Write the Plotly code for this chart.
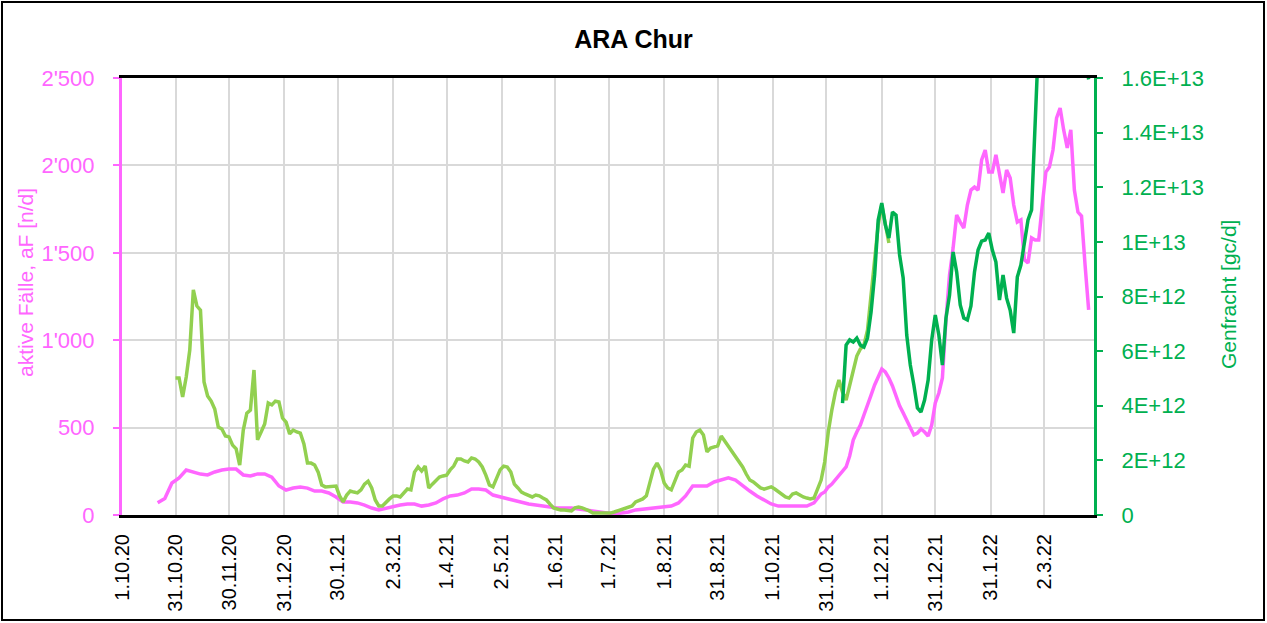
import pandas as pd
import plotly.graph_objects as go

# ---------------- data ----------------
# aktive Fälle (left axis), part A every 4 days from 2020-10-21
cases_a_start = "2020-10-21"
cases_a = [70, 94, 183, 212, 257, 246, 234, 229, 246, 257, 263, 263, 229, 223, 235, 235, 217, 166, 143, 154,
           160, 154, 137, 137, 126, 103, 74, 74, 69, 57, 40, 29, 40, 51, 57, 63, 63, 51, 57, 69,
           92, 109, 114, 126, 149, 149, 143, 114, 103, 92, 80, 69, 63, 57, 51, 46, 40, 40, 40, 34,
           29, 23, 17, 11, 6, 11, 17, 29, 34, 40, 46, 51, 51, 69, 109, 166, 166, 166, 189, 200,
           212, 200, 166, 137, 109, 86, 63, 51, 51, 51, 46, 51, 69, 120]
# part B every 2 days from 2021-10-30
cases_b_start = "2021-10-30"
cases_b = [132, 160, 177, 200, 223, 246, 275, 338, 429, 475, 515, 572, 624, 686, 744, 795, 835, 818, 784, 738,
           681, 624, 584, 543, 498, 458, 469, 492, 475, 452, 515, 641, 698, 784, 1116, 1373, 1527, 1716, 1676, 1642,
           1773, 1859, 1876, 1859, 2031, 2088, 1962, 1962, 2060, 1945, 1842, 1974, 1928, 1773, 1676, 1688, 1459, 1442, 1585, 1573,
           1573, 1773, 1962, 1991, 2088, 2271, 2328, 2203, 2100, 2203, 1859, 1733, 1710, 1430, 1173]

# Genfracht (right axis), values in units of 1E12 gc/d, every 2 days
gen_light_start = "2020-10-31"
gen_light = [5.02, 5.02, 4.32, 5.05, 6.04, 8.24, 7.65, 7.50, 4.87, 4.36, 4.17, 3.88, 3.22, 3.15, 2.89, 2.86, 2.56, 2.42, 1.83, 3.11,
             3.73, 3.84, 5.31, 2.75, 3.04, 3.33, 4.10, 4.03, 4.17, 4.14, 3.55, 3.40, 2.97, 3.11, 3.04, 3.00, 2.60, 1.90, 1.90, 1.83,
             1.57, 1.10, 1.03, 1.03, 1.03, 1.06, 0.70, 0.48, 0.73, 0.88, 0.84, 0.81, 0.92, 1.13, 1.24, 0.99, 0.55, 0.33, 0.33, 0.48,
             0.59, 0.70, 0.70, 0.66, 0.81, 0.95, 0.92, 1.57, 1.76, 1.61, 1.79, 0.99, 1.13, 1.28, 1.39, 1.43, 1.46, 1.65, 1.79, 2.05,
             2.05, 1.98, 1.94, 2.09, 2.05, 1.94, 1.76, 1.46, 1.10, 1.03, 1.35, 1.65, 1.79, 1.76, 1.57, 1.13, 0.99, 0.84, 0.77, 0.70,
             0.66, 0.73, 0.70, 0.62, 0.55, 0.40, 0.26, 0.22, 0.18, 0.18, 0.15, 0.15, 0.26, 0.29, 0.26, 0.22, 0.15, 0.07, 0.07, 0.07,
             0.07, 0.07, 0.07, 0.11, 0.15, 0.18, 0.22, 0.29, 0.33, 0.48, 0.55, 0.59, 0.70, 1.21, 1.68, 1.90, 1.65, 1.17, 0.99, 0.92,
             1.28, 1.57, 1.65, 1.83, 1.79, 2.82, 3.04, 3.11, 2.93, 2.31, 2.45, 2.49, 2.53, 2.89, 2.71, 2.49, 2.31, 2.12, 1.98, 1.76,
             1.50, 1.28, 1.21, 1.10, 0.99, 0.95, 0.99, 1.03, 0.95, 0.84, 0.73, 0.66, 0.62, 0.77, 0.81, 0.73, 0.66, 0.62, 0.59, 0.62,
             0.92, 1.28, 1.94, 3.04, 3.84, 4.50, 4.94, 4.50, 4.21, 4.76, 5.38, 5.82, 6.08, 6.22, 6.77, 8.05, 9.15, 10.62, 11.35, 10.62,
             9.96]
gen_dark_start = "2021-11-09"
gen_dark = [4.10, 6.22, 6.41, 6.33, 6.48, 6.22, 6.15, 6.48, 7.43, 8.79, 10.80, 11.42, 10.62, 10.14, 11.09, 10.98, 9.52, 8.68, 6.59, 5.49,
            4.76, 3.92, 3.77, 4.21, 4.94, 6.41, 7.32, 6.59, 5.49, 7.21, 8.05, 9.63, 8.90, 7.69, 7.21, 7.14, 7.65, 8.90, 9.70, 10.03,
            10.07, 10.32, 9.70, 9.26, 7.87, 8.79, 7.94, 7.50, 6.66, 8.71, 9.15, 10.07, 10.80, 11.17, 14.10, 17.5, 18.5, 19.0, 19.5, 20.0,
            19.0, 18.5, 19.0, 18.0, 17.5, 18.0, 17.5, 17.0, 16.8, 15.95]

x_tick_dates = ["2020-10-01", "2020-10-31", "2020-11-30", "2020-12-31", "2021-01-30", "2021-03-02", "2021-04-01",
                "2021-05-02", "2021-06-01", "2021-07-01", "2021-08-01", "2021-08-31", "2021-10-01", "2021-10-31",
                "2021-12-01", "2021-12-31", "2022-01-31", "2022-03-02"]
x_tick_labels = ["1.10.20", "31.10.20", "30.11.20", "31.12.20", "30.1.21", "2.3.21", "1.4.21", "2.5.21", "1.6.21",
                 "1.7.21", "1.8.21", "31.8.21", "1.10.21", "31.10.21", "1.12.21", "31.12.21", "31.1.22", "2.3.22"]
x_range = ["2020-10-01", "2022-03-30"]

left_ticks = [0, 500, 1000, 1500, 2000, 2500]
left_labels = ["0", "500", "1'000", "1'500", "2'000", "2'500"]
right_ticks = [0, 2e12, 4e12, 6e12, 8e12, 1e13, 1.2e13, 1.4e13, 1.6e13]
right_labels = ["0", "2E+12", "4E+12", "6E+12", "8E+12", "1E+13", "1.2E+13", "1.4E+13", "1.6E+13"]

title_text = "ARA Chur"
left_title = "aktive Fälle, aF [n/d]"
right_title = "Genfracht [gc/d]"

# ---------------- styles ----------------
PINK = "#FF66FF"
LGREEN = "#92D050"
DGREEN = "#00B050"
GRID = "#D9D9D9"
FONT = "Liberation Sans, Arial, sans-serif"
LW = 3.5

cases_dates = list(pd.date_range(cases_a_start, periods=len(cases_a), freq="4D")) + \
    list(pd.date_range(cases_b_start, periods=len(cases_b), freq="2D"))
cases_vals = cases_a + cases_b
light_dates = pd.date_range(gen_light_start, periods=len(gen_light), freq="2D")
dark_dates = pd.date_range(gen_dark_start, periods=len(gen_dark), freq="2D")

fig = go.Figure()
fig.add_trace(go.Scatter(x=cases_dates, y=cases_vals, mode="lines",
                         line=dict(color=PINK, width=LW), yaxis="y", showlegend=False))
fig.add_trace(go.Scatter(x=light_dates, y=[v * 1e12 for v in gen_light], mode="lines",
                         line=dict(color=LGREEN, width=LW), yaxis="y2", showlegend=False))
fig.add_trace(go.Scatter(x=dark_dates, y=[v * 1e12 for v in gen_dark], mode="lines",
                         line=dict(color=DGREEN, width=LW), yaxis="y2", showlegend=False))

W, H = 1267, 623
L, R, T, B = 122, 173, 78, 108
pw, ph = W - L - R, H - T - B


def px(xp):
    return (xp - L) / pw


def py(yp):
    return (H - B - yp) / ph


fig.update_layout(
    width=W, height=H,
    margin=dict(l=L, r=R, t=T, b=B, autoexpand=False),
    paper_bgcolor="white", plot_bgcolor="white",
    font=dict(family=FONT, color="black"),
    title=dict(text="<b>" + title_text + "</b>", x=0.5, xanchor="center",
               y=1 - 39 / H, yanchor="middle", yref="container",
               font=dict(size=25, family=FONT, color="black")),
    xaxis=dict(type="date", range=x_range, tickvals=x_tick_dates, ticktext=x_tick_labels,
               tickangle=-90, tickfont=dict(size=20, color="black", family=FONT),
               showgrid=True, gridcolor=GRID, gridwidth=2,
               showline=True, linecolor="black", linewidth=3, mirror=True,
               ticks="", ticklabelstandoff=8, zeroline=False),
    yaxis=dict(range=[0, 2500], tickvals=left_ticks, ticktext=left_labels,
               tickfont=dict(size=22, color=PINK, family=FONT),
               showgrid=True, gridcolor=GRID, gridwidth=2,
               showline=True, linecolor=PINK, linewidth=3,
               ticks="outside", ticklen=6, tickwidth=2, tickcolor=PINK,
               ticklabelstandoff=14, zeroline=False),
    yaxis2=dict(range=[0, 1.6e13], overlaying="y", side="right",
                tickvals=right_ticks, ticktext=right_labels,
                tickfont=dict(size=22, color=DGREEN, family=FONT),
                showgrid=False, showline=True, linecolor=DGREEN, linewidth=3,
                ticks="outside", ticklen=6, tickwidth=2, tickcolor=DGREEN,
                ticklabelstandoff=14, zeroline=False),
    annotations=[
        dict(text=left_title, xref="paper", yref="paper", x=px(25), y=py(283),
             textangle=-90, showarrow=False, xanchor="center", yanchor="middle",
             font=dict(size=21, color=PINK, family=FONT)),
        dict(text=right_title, xref="paper", yref="paper", x=px(1228), y=py(295),
             textangle=-90, showarrow=False, xanchor="center", yanchor="middle",
             font=dict(size=21, color=DGREEN, family=FONT)),
    ],
    shapes=[dict(type="rect", xref="paper", yref="paper", x0=px(2), x1=px(1264),
                 y0=py(620), y1=py(2), line=dict(color="black", width=2), layer="below")],
)

fig.write_html("out.html", config={"displayModeBar": False},
               post_script="document.body.style.margin='0px';document.body.style.overflow='hidden';")
